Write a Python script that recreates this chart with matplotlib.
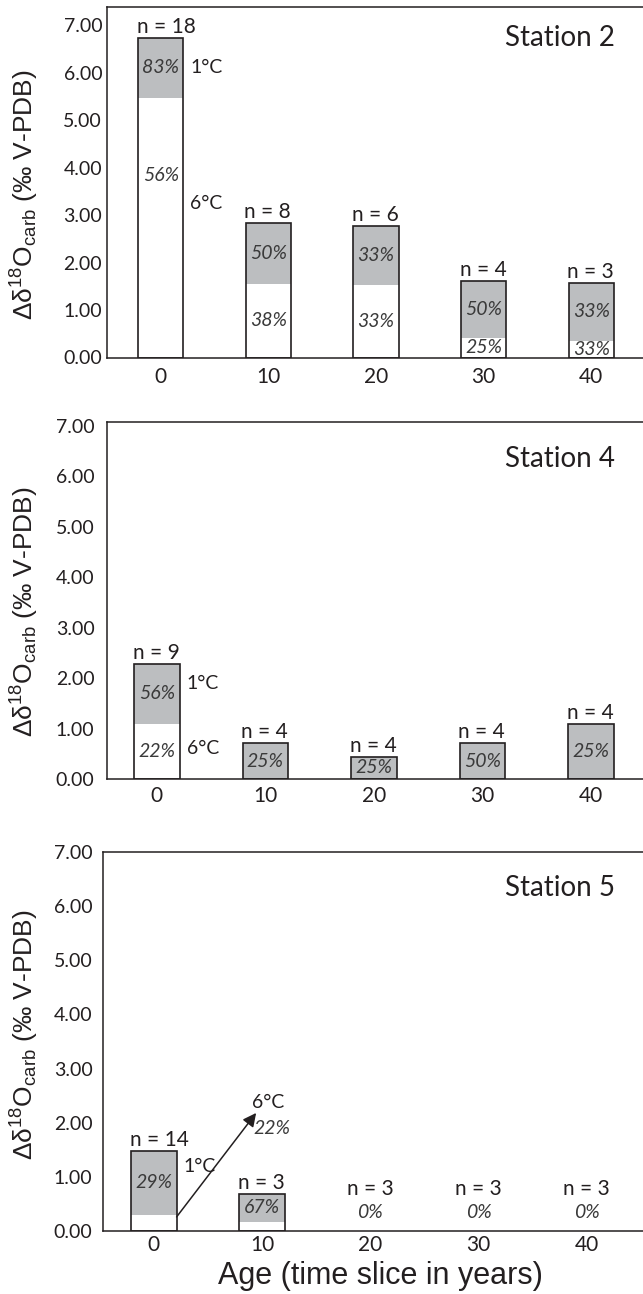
import matplotlib
matplotlib.use("Agg")
import matplotlib.pyplot as plt
import numpy as np

ages = [0, 10, 20, 30, 40]

# Station 2: bar top, top of the white (6 C) part, sample counts, percentages
st2_top = [6.73, 2.83, 2.77, 1.62, 1.57]
st2_low = [5.47, 1.55, 1.53, 0.42, 0.35]
st2_n = [18, 8, 6, 4, 3]
st2_pct1 = [83, 50, 33, 50, 33]
st2_pct6 = [56, 38, 33, 25, 33]

# Station 4
st4_top = [2.29, 0.71, 0.44, 0.71, 1.10]
st4_low = [1.09, 0.0, 0.0, 0.0, 0.0]
st4_n = [9, 4, 4, 4, 4]
st4_pct1 = [56, 25, 25, 50, 25]
st4_pct6 = [22, None, None, None, None]

# Station 5
st5_top = [1.48, 0.68, 0.0, 0.0, 0.0]
st5_low = [0.30, 0.17, 0.0, 0.0, 0.0]
st5_n = [14, 3, 3, 3, 3]
st5_pct1 = [29, 67, 0, 0, 0]
st5_pct6 = [22, None, None, None, None]

GRAY = "#bcbec0"
DARK = "#231f20"
PCT_COLOR = "#3a3a3a"
MYRIAD = ["Lato", "DejaVu Sans"]
ARIAL = ["Liberation Sans", "DejaVu Sans"]

plt.rcParams["font.family"] = MYRIAD
plt.rcParams["mathtext.fontset"] = "custom"
plt.rcParams["mathtext.rm"] = "Liberation Sans"
plt.rcParams["mathtext.it"] = "Liberation Sans:italic"
plt.rcParams["mathtext.bf"] = "Liberation Sans:bold"

W, H = 643, 1294
fig = plt.figure(figsize=(W / 100, H / 100), dpi=100)

panels = [
    dict(name="Station 2", top=st2_top, low=st2_low, n=st2_n, p1=st2_pct1, p6=st2_pct6,
         box=(107, 7, 357.5), ymax=7.38, xlim=(-0.5, 4.48), one_y=None, six_y=3.24,
         ypad=3.5, xpad=6.5, name_y=38, label_y=195),
    dict(name="Station 4", top=st4_top, low=st4_low, n=st4_n, p1=st4_pct1, p6=st4_pct6,
         box=(107, 422, 779), ymax=7.08, xlim=(-0.46, 4.48), one_y=1.90, six_y=0.61,
         ypad=9, xpad=5, name_y=459, label_y=612),
    dict(name="Station 5", top=st5_top, low=st5_low, n=st5_n, p1=st5_pct1, p6=st5_pct6,
         box=(103, 852, 1231), ymax=7.0, xlim=(-0.47, 4.52), one_y=1.20, six_y=None,
         ypad=7.5, xpad=3, name_y=888, label_y=1035),
]

w = 0.42
x = np.arange(len(ages))

for k, p in enumerate(panels):
    left, top_px, bot_px = p["box"]
    ax = fig.add_axes([left / W, 1 - bot_px / H, (W - left) / W, (bot_px - top_px) / H])
    top = np.array(p["top"])
    low = np.array(p["low"])
    has = top > 0
    arrow = p["six_y"] is None

    ax.bar(x[has], low[has], w, color="white", edgecolor="none", zorder=2)
    ax.bar(x[has], (top - low)[has], w, bottom=low[has], color=GRAY, edgecolor="none", zorder=2)
    ax.bar(x[has], top[has], w, fill=False, edgecolor=DARK, linewidth=1.2, zorder=3)

    for i in range(len(ages)):
        xl = x[i] - w / 2
        if top[i] > 0:
            ax.annotate("n = %d" % p["n"][i], (xl, top[i]), xytext=(-1, 3.5),
                        textcoords="offset points", ha="left", va="baseline",
                        fontsize=15, color=DARK)
            ax.text(x[i], (top[i] + low[i]) / 2, "%d%%" % p["p1"][i], ha="center",
                    va="center", fontsize=14, style="italic", color=PCT_COLOR, zorder=4)
            if p["p6"][i] is not None and low[i] > 0 and not (arrow and i == 0):
                yw = low[i] / 2 if low[i] < 3 else low[i] * 0.7
                ax.text(x[i], yw, "%d%%" % p["p6"][i], ha="center", va="center",
                        fontsize=14, style="italic", color=PCT_COLOR, zorder=4)
        else:
            ax.annotate("n = %d" % p["n"][i], (x[i], 0), xytext=(0, 26),
                        textcoords="offset points", ha="center", va="baseline",
                        fontsize=15, color=DARK)
            ax.annotate("%d%%" % p["p1"][i], (x[i], 0), xytext=(0, 9.5),
                        textcoords="offset points", ha="center", va="baseline",
                        fontsize=14, style="italic", color=PCT_COLOR)

    # temperature threshold labels next to the first bar
    xr = x[0] + w / 2
    one_y = p["one_y"] if p["one_y"] is not None else (top[0] + low[0]) / 2
    ax.annotate("1°C", (xr, one_y), xytext=(5, 0), textcoords="offset points",
                ha="left", va="center", fontsize=14, color=DARK)
    if not arrow:
        ax.annotate("6°C", (xr, p["six_y"]), xytext=(5, 0), textcoords="offset points",
                    ha="left", va="center", fontsize=14, color=DARK)
    else:
        ax.annotate("", xy=(0.945, 2.18), xytext=(xr, low[0] - 0.04),
                    arrowprops=dict(arrowstyle="-|>", color=DARK, lw=1.1,
                                    mutation_scale=20, shrinkA=0, shrinkB=0))
        ax.text(1.06, 2.37, "6°C", ha="center", va="center", fontsize=14, color=DARK)
        ax.text(1.09, 1.89, "%d%%" % p["p6"][0], ha="center", va="center",
                fontsize=14, style="italic", color=PCT_COLOR)

    ax.set_xlim(*p["xlim"])
    ax.set_ylim(0, p["ymax"])
    ax.set_xticks(x)
    ax.set_xticklabels([str(a) for a in ages])
    ax.set_yticks(np.arange(0, 8, 1))
    ax.set_yticklabels(["%.2f" % v for v in np.arange(0, 8, 1)])
    ax.tick_params(axis="y", length=0, pad=p["ypad"], labelsize=14, colors=DARK)
    ax.tick_params(axis="x", length=0, pad=p["xpad"], labelsize=15, colors=DARK)
    for s in ["left", "top", "bottom"]:
        ax.spines[s].set_color(DARK)
        ax.spines[s].set_linewidth(1.1)
    ax.spines["right"].set_visible(False)

    fig.text(615 / W, 1 - p["name_y"] / H, p["name"], ha="right", va="center",
             fontsize=20, color=DARK)
    fig.text(25 / W, 1 - p["label_y"] / H,
             "Δδ$^{18}$O$_{\\mathrm{carb}}$ (‰ V-PDB)", rotation=90,
             ha="center", va="center", fontsize=19, color=DARK, family=ARIAL)

fig.text(380 / W, 1 - 1276 / H, "Age (time slice in years)", ha="center", va="center",
         fontsize=22, color=DARK, family=ARIAL)

fig.savefig("out.png", dpi=100)
